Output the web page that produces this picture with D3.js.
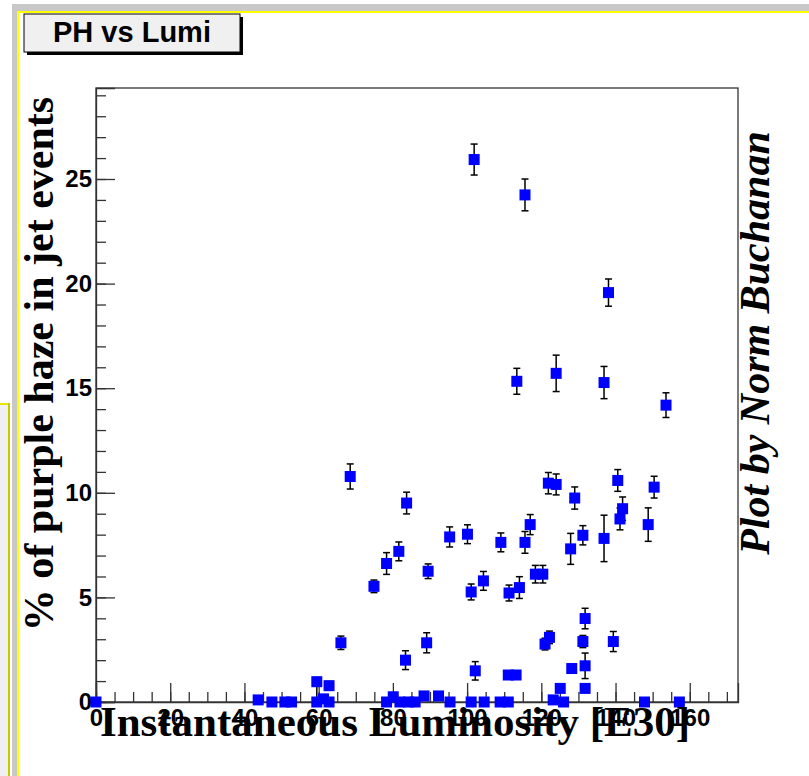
<!DOCTYPE html>
<html>
<head>
<meta charset="utf-8">
<script src="https://cdn.jsdelivr.net/npm/d3@7"></script>
<style>
  body { margin: 0; background: #fff; }
  svg { display: block; }
</style>
</head>
<body>
<div id="chart"></div>
<script>
// Instantaneous luminosity [E30] for each run
const lumi = [
  0, 43.7, 47.4, 50.9, 52.7, 59.5, 59.5, 61.3, 62.8, 62.8,
  66.0, 68.5, 74.9, 78.3, 78.3, 80.1, 81.6, 81.9, 83.4, 83.7,
  84.2, 86.0, 88.4, 89.1, 89.5, 92.3, 95.3, 95.4, 100.1, 101.1,
  101.1, 101.9, 102.2, 104.4, 104.6, 108.9, 109.1, 111.1, 111.1, 111.3,
  113.2, 113.4, 114.1, 115.6, 115.6, 117.0, 118.4, 120.4, 121.0, 121.9,
  122.2, 123.2, 124.0, 124.0, 125.1, 126.0, 127.9, 128.2, 129.0, 131.2,
  131.2, 131.8, 131.8, 131.8, 136.9, 136.9, 138.1, 139.4, 140.6, 141.2,
  141.9, 147.8, 148.8, 150.4, 153.6, 157.2
];
// % of purple haze in jet events
const phPct = [
  0, 0.1, 0, 0, 0, 0, 0.97, 0.15, 0, 0.78,
  2.83, 10.78, 5.53, 6.62, 0, 0.25, 7.20, 0, 2.0, 9.51,
  0, 0, 0.29, 2.83, 6.25, 0.29, 7.89, 0, 8.02, 5.26,
  0, 25.93, 1.49, 5.79, 0, 0, 7.63, 0, 1.29, 5.21,
  1.29, 15.33, 5.47, 7.63, 24.24, 8.48, 6.11, 6.11, 2.77, 10.46,
  3.09, 0.1, 10.40, 15.71, 0.65, 0, 7.32, 1.6, 9.75, 7.97,
  2.89, 3.99, 1.73, 0.65, 7.82, 15.27, 19.57, 2.89, 10.59, 8.75,
  9.24, 0, 8.48, 10.27, 14.19, 0
];
// error on the percentage
const phErr = [
  0, 0, 0, 0, 0, 0.97, 0.2, 0, 0, 0.2,
  0.32, 0.6, 0.3, 0.52, 0, 0, 0.45, 0, 0.45, 0.52,
  0, 0, 0, 0.48, 0.35, 0, 0.48, 0, 0.45, 0.38,
  0, 0.74, 0.44, 0.45, 0, 0, 0.45, 0, 0.2, 0.38,
  0.2, 0.62, 0.52, 0.52, 0.76, 0.48, 0.42, 0.42, 0.28, 0.51,
  0.3, 0, 0.5, 0.87, 0, 0, 0.74, 0.2, 0.53, 0.46,
  0.29, 0.49, 0.61, 0, 1.11, 0.77, 0.65, 0.48, 0.52, 0.52,
  0.56, 0, 0.8, 0.52, 0.59, 0
];

const xMajor = [0, 20, 40, 60, 80, 100, 120, 140, 160];
const yMajor = [0, 5, 10, 15, 20, 25];

const W = 809, H = 776;
const frame = { left: 96, right: 738, top: 88, bottom: 702 };

const svg = d3.select('#chart').append('svg')
  .attr('width', W)
  .attr('height', H);

// canvas window decorations
svg.append('rect').attr('x', 12).attr('y', 4).attr('width', W - 12).attr('height', 7).attr('fill', '#c8c8c8');
svg.append('rect').attr('x', 12).attr('y', 4).attr('width', 5).attr('height', H - 4).attr('fill', '#c8c8c8');
svg.append('rect').attr('x', 17).attr('y', 11).attr('width', W - 17).attr('height', 2).attr('fill', '#ffff00');
svg.append('rect').attr('x', 17).attr('y', 11).attr('width', 2).attr('height', H - 11).attr('fill', '#ffff00');
svg.append('rect').attr('x', 0).attr('y', 403).attr('width', 9).attr('height', H - 403).attr('fill', '#f0f0f0');
svg.append('rect').attr('x', 0).attr('y', 403).attr('width', 10).attr('height', 2).attr('fill', '#e6e600');
svg.append('rect').attr('x', 8).attr('y', 403).attr('width', 2).attr('height', H - 403).attr('fill', '#c8c800');

// title box
svg.append('rect').attr('x', 27).attr('y', 17).attr('width', 216).attr('height', 38).attr('fill', '#000');
svg.append('rect').attr('x', 24).attr('y', 14).attr('width', 216).attr('height', 38)
  .attr('fill', '#f0f0f0').attr('stroke', '#000').attr('stroke-width', 1);
svg.append('text')
  .attr('x', 132).attr('y', 42)
  .attr('text-anchor', 'middle')
  .style('font-family', '"Liberation Sans", Arial, sans-serif')
  .style('font-weight', 'bold')
  .style('font-size', '29px')
  .text('PH vs Lumi');

const x = d3.scaleLinear().domain([0, 173]).range([frame.left, frame.right]);
const y = d3.scaleLinear().domain([0, 29.35]).range([frame.bottom, frame.top]);

// frame
svg.append('rect')
  .attr('x', frame.left).attr('y', frame.top)
  .attr('width', frame.right - frame.left).attr('height', frame.bottom - frame.top)
  .attr('fill', 'none').attr('stroke', '#333').attr('stroke-width', 1.3);

const tickFont = (g) => g.selectAll('text')
  .style('font-family', '"Liberation Sans", Arial, sans-serif')
  .style('font-weight', 'bold')
  .style('font-size', '24px')
  .attr('fill', '#000');

// x axis: minor then major ticks pointing into the frame
svg.append('g')
  .attr('transform', `translate(0,${frame.bottom})`)
  .call(d3.axisBottom(x).tickValues(d3.range(0, 171, 5)).tickSize(-10).tickFormat(''))
  .call(g => g.select('.domain').remove())
  .call(g => g.selectAll('line').attr('stroke', '#333').attr('stroke-width', 1.3));

svg.append('g')
  .attr('transform', `translate(0,${frame.bottom})`)
  .call(d3.axisBottom(x).tickValues(xMajor).tickSize(-19).tickPadding(7).tickFormat(d3.format('d')))
  .call(g => g.select('.domain').attr('stroke', '#333').attr('stroke-width', 1.3))
  .call(g => g.selectAll('line').attr('stroke', '#333').attr('stroke-width', 1.3))
  .call(tickFont);

// y axis
svg.append('g')
  .attr('transform', `translate(${frame.left},0)`)
  .call(d3.axisLeft(y).tickValues(d3.range(0, 30, 1)).tickSize(-10).tickFormat(''))
  .call(g => g.select('.domain').remove())
  .call(g => g.selectAll('line').attr('stroke', '#333').attr('stroke-width', 1.3));

svg.append('g')
  .attr('transform', `translate(${frame.left},0)`)
  .call(d3.axisLeft(y).tickValues(yMajor).tickSize(-19).tickPadding(4).tickFormat(d3.format('d')))
  .call(g => g.select('.domain').attr('stroke', '#333').attr('stroke-width', 1.3))
  .call(g => g.selectAll('line').attr('stroke', '#333').attr('stroke-width', 1.3))
  .call(tickFont);

// data points
const points = lumi.map((l, i) => ({ x: l, y: phPct[i], e: phErr[i] }));

const errs = svg.append('g').attr('class', 'errors')
  .attr('stroke', '#000').attr('stroke-width', 1.5);

points.filter(d => d.e > 0).forEach(d => {
  const px = x(d.x);
  const lo = y(Math.max(0, d.y - d.e));
  const hi = y(d.y + d.e);
  errs.append('line').attr('x1', px).attr('x2', px).attr('y1', lo).attr('y2', hi);
  errs.append('line').attr('x1', px - 3.5).attr('x2', px + 3.5).attr('y1', hi).attr('y2', hi);
  if (d.y - d.e > 0) {
    errs.append('line').attr('x1', px - 3.5).attr('x2', px + 3.5).attr('y1', lo).attr('y2', lo);
  }
});

const ms = 11;
svg.append('g').attr('class', 'markers')
  .selectAll('rect')
  .data(points)
  .enter().append('rect')
  .attr('x', d => x(d.x) - ms / 2)
  .attr('y', d => y(d.y) - ms / 2)
  .attr('width', ms)
  .attr('height', ms)
  .attr('fill', '#0000ff');

// axis titles
svg.append('text')
  .attr('x', 395).attr('y', 736)
  .attr('text-anchor', 'middle')
  .style('font-family', '"Liberation Serif", "Times New Roman", serif')
  .style('font-weight', 'bold')
  .style('font-size', '43px')
  .text('Instantaneous Luminosity [E30]');

svg.append('text')
  .attr('transform', 'translate(53,364) rotate(-90)')
  .attr('text-anchor', 'middle')
  .style('font-family', '"Liberation Serif", "Times New Roman", serif')
  .style('font-weight', 'bold')
  .style('font-size', '42px')
  .text('% of purple haze in jet events');

svg.append('text')
  .attr('transform', 'translate(769,343) rotate(-90)')
  .attr('text-anchor', 'middle')
  .style('font-family', '"Liberation Serif", "Times New Roman", serif')
  .style('font-weight', 'bold')
  .style('font-style', 'italic')
  .style('font-size', '42px')
  .text('Plot by Norm Buchanan');
</script>
</body>
</html>
